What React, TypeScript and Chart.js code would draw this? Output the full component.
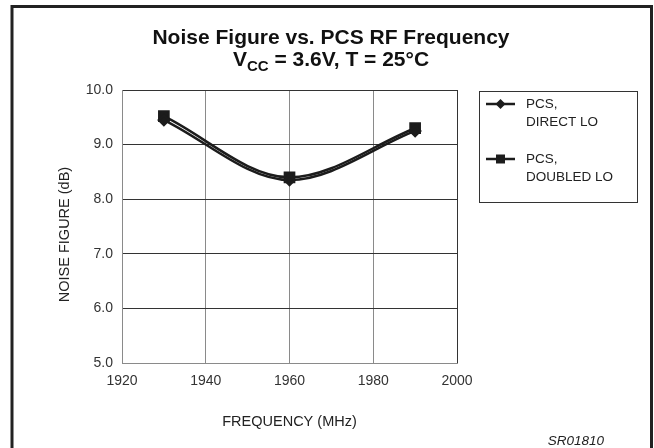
import React, { useEffect, useRef } from "react";
import { Chart, registerables } from "chart.js";

Chart.register(...registerables);

const FREQ_MHZ = [1930, 1960, 1990];
const NF_DIRECT_LO = [9.45, 8.35, 9.25];
const NF_DOUBLED_LO = [9.52, 8.4, 9.3];
const SERIES_LABELS = ["PCS, DIRECT LO", "PCS, DOUBLED LO"];
const LEGEND_LINES = [["PCS,", "DIRECT LO"], ["PCS,", "DOUBLED LO"]];
const TITLE_LINE1 = "Noise Figure vs. PCS RF Frequency";
const TITLE_V = "V";
const TITLE_SUB = "CC";
const TITLE_REST = " = 3.6V, T = 25°C";
const X_TITLE = "FREQUENCY (MHz)";
const Y_TITLE = "NOISE FIGURE (dB)";
const CODE_LABEL = "SR01810";

const FAMILY = '"Liberation Sans", Arial, Helvetica, sans-serif';
const INK = "#1c1c1c";

const decorPlugin = {
  id: "decor",
  afterDraw(chart: any) {
    const ctx = chart.ctx as CanvasRenderingContext2D;
    ctx.save();
    // outer frame
    ctx.strokeStyle = "#222";
    ctx.lineWidth = 3;
    ctx.beginPath();
    ctx.moveTo(12, 460);
    ctx.lineTo(12, 6.5);
    ctx.lineTo(651.5, 6.5);
    ctx.lineTo(651.5, 460);
    ctx.stroke();

    // title
    ctx.fillStyle = "#111";
    ctx.textBaseline = "alphabetic";
    ctx.textAlign = "left";
    const cx = 331;
    const mainFont = `bold 21px ${FAMILY}`;
    const subFont = `bold 15px ${FAMILY}`;
    ctx.font = mainFont;
    const w1 = ctx.measureText(TITLE_LINE1).width;
    ctx.fillText(TITLE_LINE1, cx - w1 / 2, 44);
    const wv = ctx.measureText(TITLE_V).width;
    const wr = ctx.measureText(TITLE_REST).width;
    ctx.font = subFont;
    const ws = ctx.measureText(TITLE_SUB).width;
    const total = wv + ws + wr;
    let x = cx - total / 2;
    const base2 = 66;
    ctx.font = mainFont;
    ctx.fillText(TITLE_V, x, base2);
    x += wv;
    ctx.font = subFont;
    ctx.fillText(TITLE_SUB, x, base2 + 5);
    x += ws;
    ctx.font = mainFont;
    ctx.fillText(TITLE_REST, x, base2);

    // y axis title
    const area = chart.chartArea;
    ctx.save();
    ctx.translate(65, (area.top + area.bottom) / 2 + 8);
    ctx.rotate(-Math.PI / 2);
    ctx.font = `14.5px ${FAMILY}`;
    ctx.fillStyle = "#222";
    ctx.textAlign = "center";
    ctx.textBaseline = "middle";
    ctx.fillText(Y_TITLE, 0, 0);
    ctx.restore();

    // legend box
    ctx.strokeStyle = "#333";
    ctx.lineWidth = 1;
    ctx.strokeRect(479.5, 91.5, 158, 111);
    const rows = [104, 159];
    chart.data.datasets.forEach((ds: any, i: number) => {
      const y = rows[i];
      ctx.strokeStyle = INK;
      ctx.lineWidth = 2.5;
      ctx.beginPath();
      ctx.moveTo(486, y);
      ctx.lineTo(515, y);
      ctx.stroke();
      ctx.fillStyle = INK;
      ctx.beginPath();
      if (ds.pointStyle === "rectRot") {
        const r = 5;
        ctx.moveTo(500.5, y - r);
        ctx.lineTo(500.5 + r, y);
        ctx.lineTo(500.5, y + r);
        ctx.lineTo(500.5 - r, y);
        ctx.closePath();
      } else {
        ctx.rect(500.5 - 4.5, y - 4.5, 9, 9);
      }
      ctx.fill();
      ctx.font = `13.5px ${FAMILY}`;
      ctx.fillStyle = "#222";
      ctx.textAlign = "left";
      ctx.textBaseline = "middle";
      LEGEND_LINES[i].forEach((t, k) => {
        ctx.fillText(t, 526, y + k * 18);
      });
    });

    // code label
    ctx.font = `italic 13.5px ${FAMILY}`;
    ctx.textAlign = "right";
    ctx.textBaseline = "middle";
    ctx.fillStyle = "#222";
    ctx.fillText(CODE_LABEL, 604, 441);
    ctx.restore();
  },
};

export default function App() {
  const ref = useRef<HTMLCanvasElement | null>(null);
  useEffect(() => {
    if (!ref.current) return;
    const chart = new Chart(ref.current, {
      type: "line",
      data: {
        datasets: [
          {
            label: SERIES_LABELS[0],
            data: FREQ_MHZ.map((f, i) => ({ x: f, y: NF_DIRECT_LO[i] })),
            borderColor: INK,
            backgroundColor: INK,
            borderWidth: 2.5,
            pointStyle: "rectRot",
            pointRadius: 5,
            cubicInterpolationMode: "monotone",
          },
          {
            label: SERIES_LABELS[1],
            data: FREQ_MHZ.map((f, i) => ({ x: f, y: NF_DOUBLED_LO[i] })),
            borderColor: INK,
            backgroundColor: INK,
            borderWidth: 2.5,
            pointStyle: "rect",
            pointRadius: 6.5,
            cubicInterpolationMode: "monotone",
          },
        ],
      },
      options: {
        responsive: false,
        animation: false,
        devicePixelRatio: 1,
        layout: { padding: { left: 58, top: 90, right: 197, bottom: 0 } },
        plugins: { legend: { display: false }, tooltip: { enabled: false }, title: { display: false } },
        scales: {
          x: {
            type: "linear",
            min: 1920,
            max: 2000,
            ticks: {
              stepSize: 20,
              padding: 10,
              color: "#333",
              font: { family: FAMILY, size: 14 },
              maxRotation: 0,
              callback: (v: any) => String(v),
            },
            grid: {
              drawTicks: false,
              color: (c: any) => (c.tick && c.tick.value === 2000 ? "#333" : "#8a8a8a"),
            },
            border: { color: "#8a8a8a" },
            title: { display: true, text: X_TITLE, color: "#222", font: { family: FAMILY, size: 14.5 }, padding: { top: 0, bottom: 17 } },
            afterFit: (s: any) => {
              s.height = 85;
            },
          },
          y: {
            min: 5,
            max: 10,
            ticks: {
              stepSize: 1,
              padding: 9,
              color: "#333",
              font: { family: FAMILY, size: 14 },
              callback: (v: any) => Number(v).toFixed(1),
            },
            grid: {
              drawTicks: false,
              color: (c: any) => (c.tick && c.tick.value === 5 ? "#8a8a8a" : "#333"),
            },
            border: { color: "#8a8a8a" },
            title: { display: false, text: Y_TITLE },
            afterFit: (s: any) => {
              s.width = 64;
            },
          },
        },
      },
      plugins: [decorPlugin],
    } as any);
    return () => chart.destroy();
  }, []);
  return (
    <div style={{ position: "fixed", left: 0, top: 0, width: 654, height: 448, background: "#fff" }}>
      <canvas ref={ref} width={654} height={448} style={{ display: "block" }} />
    </div>
  );
}
